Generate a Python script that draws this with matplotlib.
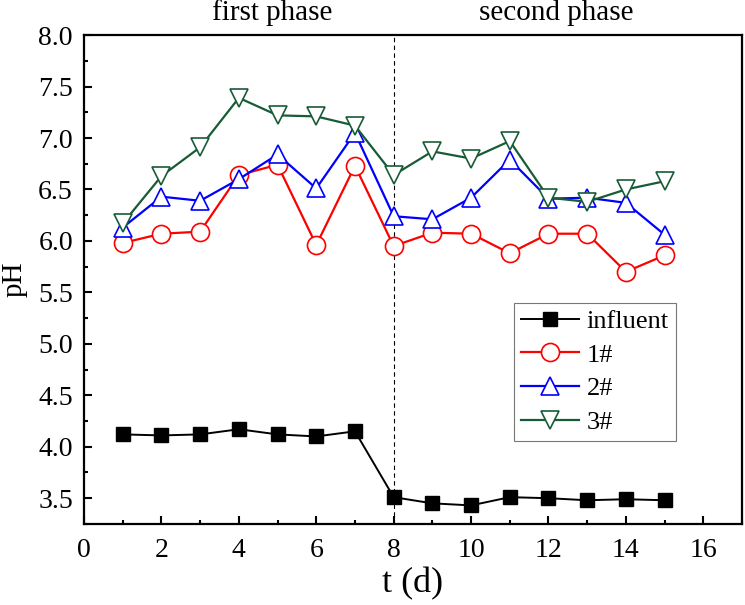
import matplotlib
matplotlib.use("Agg")
import matplotlib.pyplot as plt
from matplotlib.ticker import MultipleLocator

plt.rcParams.update({"font.family": "Liberation Serif", "mathtext.fontset": "stix"})

t = list(range(1, 16))
influent = [4.12, 4.11, 4.12, 4.17, 4.12, 4.10, 4.15, 3.51, 3.45, 3.43, 3.51, 3.50, 3.48, 3.49, 3.48]
r1 = [5.98, 6.07, 6.09, 6.64, 6.74, 5.96, 6.73, 5.95, 6.08, 6.07, 5.88, 6.07, 6.07, 5.70, 5.86]
r2 = [6.13, 6.43, 6.39, 6.60, 6.84, 6.51, 7.05, 6.24, 6.21, 6.42, 6.79, 6.41, 6.42, 6.37, 6.06]
r3 = [6.17, 6.63, 6.91, 7.39, 7.22, 7.21, 7.12, 6.64, 6.87, 6.80, 6.97, 6.42, 6.38, 6.50, 6.58]
labels = ["influent", "1#", "2#", "3#"]
phase_split = 8
phases = [("first phase", 4.85), ("second phase", 12.2)]

fig = plt.figure(figsize=(7.45, 6.05), dpi=100)
ax = fig.add_axes([0.1128, 0.134, 0.8832, 0.808])

GREEN = "#175c36"
ax.plot(t, influent, color="black", lw=1.4, marker="s", ms=10, mfc="black", mec="black", label=labels[0])
ax.plot(t, r1, color="red", lw=1.6, marker="o", ms=13, mfc="white", mec="red", mew=1.2, label=labels[1])
ax.plot(t, r2, color="blue", lw=1.6, marker="^", ms=13, mfc="white", mec="blue", mew=1.2, label=labels[2])
ax.plot(t, r3, color=GREEN, lw=1.6, marker="v", ms=13, mfc="white", mec=GREEN, mew=1.2, label=labels[3])

ax.axvline(phase_split, color="black", ls=(0, (4, 3)), lw=0.8, zorder=0)
for name, xp in phases:
    ax.text(xp, 1.046, name, transform=ax.get_xaxis_transform(), ha="center", va="center", fontsize=21)

ax.set_xlim(0, 17)
ax.set_ylim(3.25, 8.0)
ax.xaxis.set_major_locator(MultipleLocator(2))
ax.xaxis.set_minor_locator(MultipleLocator(1))
ax.yaxis.set_major_locator(MultipleLocator(0.5))
ax.yaxis.set_minor_locator(MultipleLocator(0.25))
ax.yaxis.set_major_formatter(matplotlib.ticker.FormatStrFormatter("%.1f"))
ax.tick_params(which="both", direction="in", top=False, right=False, labelsize=20, width=1.5)
ax.tick_params(which="major", length=6)
ax.tick_params(which="minor", length=3)
ax.tick_params(axis="x", which="major", pad=10)
ax.tick_params(axis="y", which="major", pad=8)
for s in ax.spines.values():
    s.set_linewidth(1.6)

ax.set_xlabel("t (d)", fontsize=26, labelpad=3)
ax.set_ylabel("pH", fontsize=21, labelpad=8)

leg = ax.legend(loc="lower right", bbox_to_anchor=(0.899, 0.17), fontsize=19, frameon=True,
                fancybox=False, edgecolor="#555555", handlelength=2.2, borderpad=0.25,
                labelspacing=0.39, handletextpad=0.3, borderaxespad=0)
leg.get_frame().set_linewidth(0.8)

fig.savefig("out.png", dpi=100)
